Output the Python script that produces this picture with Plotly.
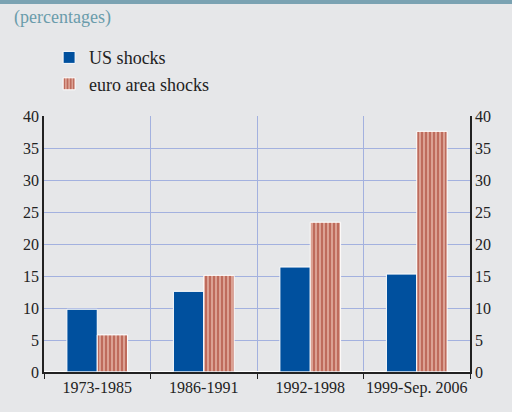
import plotly.graph_objects as go

categories = ["1973-1985", "1986-1991", "1992-1998", "1999-Sep. 2006"]
us_shocks = [9.8, 12.6, 16.4, 15.3]
euro_shocks = [5.8, 15.1, 23.4, 37.6]
y_ticks = [0, 5, 10, 15, 20, 25, 30, 35, 40]

FONT = "Liberation Serif"
BG = "#e6e7e9"
GRID = "#a3b1df"
TXT = "#222222"

fig = go.Figure()
fig.add_trace(go.Bar(
    x=categories, y=us_shocks, name="US shocks",
    marker=dict(color="#00509e", line=dict(color="white", width=1)),
))
fig.add_trace(go.Bar(
    x=categories, y=euro_shocks, name="euro area shocks",
    marker=dict(color="#d6978a", line=dict(color="white", width=1),
                pattern=dict(shape="|", fgcolor="#be6b5c", bgcolor="#dba193",
                             size=4, solidity=0.5, fillmode="replace")),
))
# invisible trace to show right axis
fig.add_trace(go.Bar(x=categories, y=[0]*4, yaxis="y2", showlegend=False,
                     hoverinfo="skip", marker=dict(color="rgba(0,0,0,0)")))

fig.update_layout(
    width=512, height=412,
    paper_bgcolor=BG, plot_bgcolor=BG,
    margin=dict(l=44, r=42, t=116, b=40, autoexpand=False),
    barmode="group", bargap=0.43, bargroupgap=0,
    font=dict(family=FONT, size=16, color=TXT),
    showlegend=True,
    legend=dict(x=0.012, y=1.30, xanchor="left", yanchor="top",
                bgcolor="rgba(0,0,0,0)", font=dict(family=FONT, size=18, color=TXT),
                tracegroupgap=0, itemwidth=30),
    title=dict(text="(percentages)", x=14/512, xanchor="left", xref="container",
               y=1-17/412, yref="container", yanchor="middle",
               font=dict(family=FONT, size=18, color="#6a9cab")),
    xaxis=dict(
        type="category", tickson="boundaries", showgrid=True, gridcolor=GRID, gridwidth=1,
        showline=True, linecolor=TXT, linewidth=1.5, ticks="outside", ticklen=5,
        tickcolor=TXT, tickangle=0, automargin=False,
        tickfont=dict(family=FONT, size=16, color=TXT),
        zeroline=False, range=[-0.5, 3.5],
    ),
    yaxis=dict(
        range=[0, 40], tickvals=y_ticks, showgrid=True, gridcolor=GRID, gridwidth=1,
        showline=True, linecolor=TXT, linewidth=1.5, ticks="", zeroline=True,
        zerolinecolor="white", zerolinewidth=2, automargin=False,
        tickfont=dict(family=FONT, size=16, color=TXT),
    ),
    yaxis2=dict(
        range=[0, 40], tickvals=y_ticks, overlaying="y", side="right", showgrid=False,
        showline=True, linecolor=TXT, linewidth=1.5, ticks="", zeroline=False,
        automargin=False, tickfont=dict(family=FONT, size=16, color=TXT),
    ),
    shapes=[
        dict(type="rect", xref="paper", yref="paper", x0=-44/426, x1=(512-44)/426,
             y0=(372-4)/256, y1=(372+1)/256,
             fillcolor="#7aa2b2", line=dict(width=0), layer="above"),
    ],
)

fig.write_html("out.html", config={"displayModeBar": False},
               post_script="document.body.style.margin='0';document.body.style.overflow='hidden';")
